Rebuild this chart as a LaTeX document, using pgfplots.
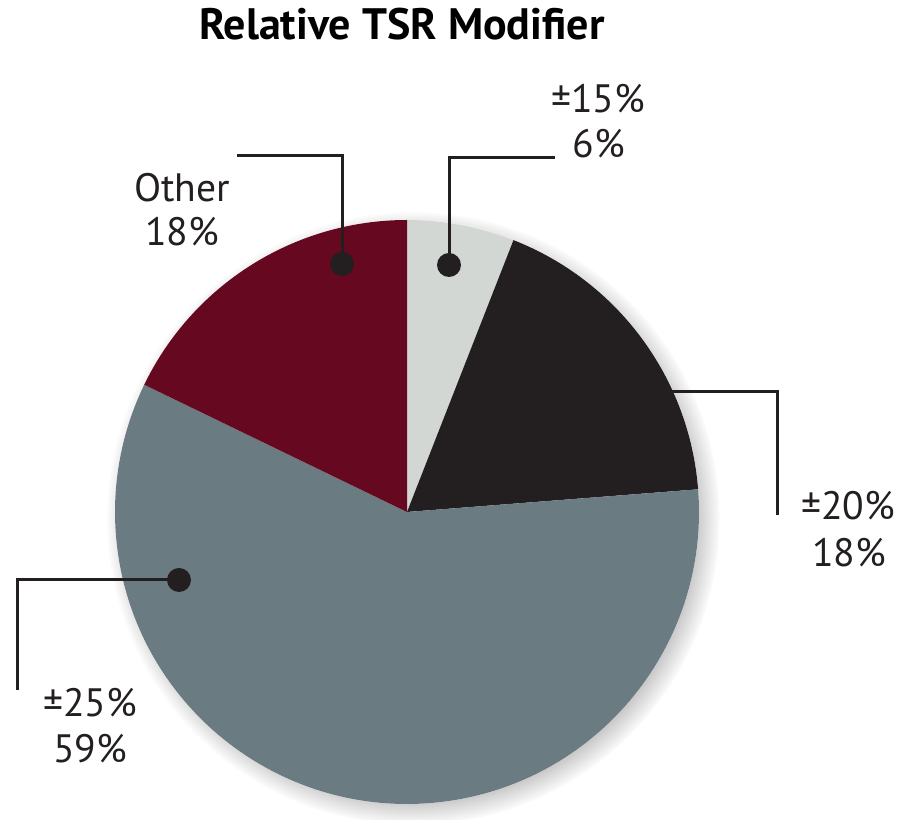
\documentclass[border=0pt]{standalone}
\usepackage{pgfplots}
\pgfplotsset{compat=1.18}
\usepackage{pgfplotstable}
\usetikzlibrary{shadows,fadings}
\usepackage{fontspec}
\setmainfont{PT Sans}
\definecolor{cA}{HTML}{D3D7D4}
\definecolor{cB}{HTML}{231F20}
\definecolor{cC}{HTML}{6A7B82}
\definecolor{cD}{HTML}{650820}
\definecolor{ink}{HTML}{231F20}
\pgfplotstableread{
label value
15 6
20 18
25 59
Other 18
}\piedata
\pgfplotstablegetelem{0}{value}\of\piedata\let\vA\pgfplotsretval
\pgfplotstablegetelem{1}{value}\of\piedata\let\vB\pgfplotsretval
\pgfplotstablegetelem{2}{value}\of\piedata\let\vC\pgfplotsretval
\pgfplotstablegetelem{3}{value}\of\piedata\let\vD\pgfplotsretval
\pgfmathsetmacro\tot{\vA+\vB+\vC+\vD}
\pgfmathsetmacro\aA{90-(360/\tot)*\vA}
\pgfmathsetmacro\aB{90-(360/\tot)*(\vA+\vB)}
\pgfmathsetmacro\aC{90-(360/\tot)*(\vA+\vB+\vC)}
\def\cx{407}\def\cy{308}\def\R{292}
\begin{document}
\begin{tikzpicture}
\begin{axis}[scale only axis, width=451pt, height=410pt,
  xmin=0, xmax=902, ymin=0, ymax=820, hide axis, clip=false]
\path (axis cs:0,0) rectangle (axis cs:902,820);
\fill[white, circular drop shadow={shadow scale=1.05, shadow xshift=3pt, shadow yshift=-3pt, opacity=0.8}] (axis cs:\cx,\cy) circle[radius=\R];
\fill[cA] (axis cs:\cx,\cy) -- (axis cs:{\cx+\R*cos(90)},{\cy+\R*sin(90)}) arc[start angle=90, end angle=\aA, radius=\R] -- cycle;
\fill[cB] (axis cs:\cx,\cy) -- (axis cs:{\cx+\R*cos(\aA)},{\cy+\R*sin(\aA)}) arc[start angle=\aA, end angle=\aB, radius=\R] -- cycle;
\fill[cC] (axis cs:\cx,\cy) -- (axis cs:{\cx+\R*cos(\aB)},{\cy+\R*sin(\aB)}) arc[start angle=\aB, end angle=\aC, radius=\R] -- cycle;
\fill[cD] (axis cs:\cx,\cy) -- (axis cs:{\cx+\R*cos(\aC)},{\cy+\R*sin(\aC)}) arc[start angle=\aC, end angle=-270, radius=\R] -- cycle;
% leader lines
\draw[ink, line width=1.5pt] (axis cs:449,555) -- (axis cs:449,662) -- (axis cs:555,662);
\fill[ink] (axis cs:449,555) circle[radius=12];
\draw[ink, line width=1.5pt] (axis cs:342,556) -- (axis cs:342,664) -- (axis cs:237,664);
\fill[ink] (axis cs:342,556) circle[radius=12];
\draw[ink, line width=1.5pt] (axis cs:660,428) -- (axis cs:777,428) -- (axis cs:777,305);
\draw[ink, line width=1.5pt] (axis cs:179,240) -- (axis cs:17,240) -- (axis cs:17,130);
\fill[ink] (axis cs:179,240) circle[radius=12];
% labels
\begin{scope}[every node/.style={anchor=base, inner sep=0pt, text=ink, font=\fontsize{19.8}{22}\selectfont}]
\node[font=\fontsize{22}{26}\selectfont\bfseries, text=black] at (axis cs:402,780) {Relative TSR Modifier};
\node at (axis cs:598,707) {±15\%};
\node at (axis cs:599,662) {6\%};
\node at (axis cs:182,618) {Other};
\node at (axis cs:182,574) {18\%};
\node at (axis cs:848,300) {±20\%};
\node at (axis cs:849,253) {18\%};
\node at (axis cs:90,103) {±25\%};
\node at (axis cs:90,57) {59\%};
\end{scope}
\end{axis}
\end{tikzpicture}
\end{document}
